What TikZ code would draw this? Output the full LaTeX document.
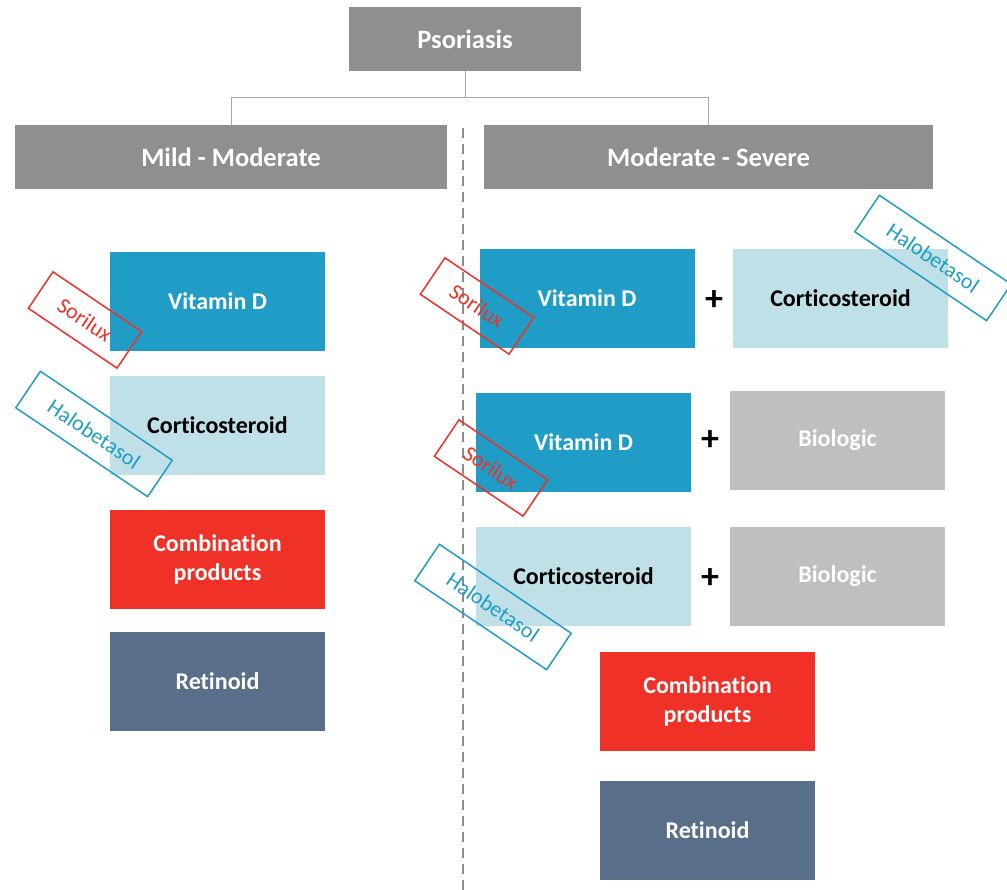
\documentclass[tikz,border=0pt]{standalone}
\usepackage{fontspec}
\setmainfont{Carlito}[Ligatures=NoCommon]
\definecolor{hdr}{HTML}{8F8F8F}
\definecolor{vitd}{HTML}{1F9DC7}
\definecolor{cort}{HTML}{BFE0E6}
\definecolor{comb}{HTML}{F03127}
\definecolor{reti}{HTML}{596E89}
\definecolor{biol}{HTML}{BFBFBF}
\definecolor{connc}{HTML}{A6A6A6}
\definecolor{dashc}{HTML}{8C8C8C}
\definecolor{sorc}{HTML}{EE3127}
\definecolor{haloc}{HTML}{1F9DC7}
\begin{document}
\begin{tikzpicture}[x=1pt,y=-1pt,
  hdrbox/.style={rectangle,fill=hdr,text=white,inner sep=0pt,font=\bfseries\fontsize{26.5}{30}\selectfont},
  tbox/.style={rectangle,minimum width=215pt,minimum height=99pt,inner sep=0pt,align=center,font=\bfseries\fontsize{24}{28.5}\selectfont},
  vitbox/.style={tbox,fill=vitd,text=white},
  cortbox/.style={tbox,fill=cort,text=black},
  combbox/.style={tbox,fill=comb,text=white},
  retibox/.style={tbox,fill=reti,text=white},
  biolbox/.style={tbox,fill=biol,text=white},
  plussign/.style={font=\bfseries\fontsize{36}{40}\selectfont,inner sep=0pt},
  stampbox/.style={rectangle,draw,line width=1.5pt,minimum height=44pt,inner sep=0pt,font=\fontsize{22}{26}\selectfont,rotate=-34},
  soristamp/.style={stampbox,draw=sorc,text=sorc,minimum width=107pt},
  halostamp/.style={stampbox,draw=haloc,text=haloc,minimum width=159pt},
  conn/.style={draw=connc,line width=1pt},
  divider/.style={draw=dashc,line width=2pt,dash pattern=on 10pt off 6pt}
]
\useasboundingbox (0,0) rectangle (1007,890);

% headers
\node[hdrbox,minimum width=232pt,minimum height=64pt] (pso) at (465,39) {Psoriasis};
\node[hdrbox,minimum width=432pt,minimum height=64pt] (mild) at (231,157) {Mild - Moderate};
\node[hdrbox,minimum width=449pt,minimum height=64pt] (sev) at (708.5,157) {Moderate - Severe};

\coordinate (j) at (465,98);
\draw[conn] (pso.south) -- (j) -| (mild.north);
\draw[conn] (j) -| (sev.north);

% divider
\coordinate (dtop) at (463,128);
\coordinate (dbot) at (463,890);
\draw[divider] (dtop) -- (dbot);

% left column
\node[vitbox] (lvit) at (217.5,301.5) {Vitamin D};
\node[cortbox] (lcort) at (217.5,425.5) {Corticosteroid};
\node[combbox] (lcomb) at (217.5,559.5) {Combination\\products};
\node[retibox] (lret) at (217.5,681.5) {Retinoid};

% right column
\node[vitbox] (rvit1) at (587,298.5) {Vitamin D};
\node[cortbox] (rcort1) at (840.5,298.5) {Corticosteroid};
\node[vitbox] (rvit2) at (583.5,442.5) {Vitamin D};
\node[biolbox] (rbio1) at (837.5,440.5) {Biologic};
\node[cortbox] (rcort2) at (583.5,576.5) {Corticosteroid};
\node[biolbox] (rbio2) at (837.5,576) {Biologic};
\node[combbox] (rcomb) at (707.5,701.5) {Combination\\products};
\node[retibox] (rret) at (707.5,830.5) {Retinoid};

\node[plussign] (p1) at (714,301) {+};
\node[plussign] (p2) at (710,441) {+};
\node[plussign] (p3) at (710,579) {+};

% stamps
\node[soristamp] (s1) at (85,320) {Sorilux};
\node[halostamp] (h1) at (94,434) {Halobetasol};
\node[soristamp] (s2) at (477,306) {Sorilux};
\node[halostamp] (h2) at (933,258) {Halobetasol};
\node[soristamp] (s3) at (491,468) {Sorilux};
\node[halostamp] (h3) at (493,607) {Halobetasol};
\end{tikzpicture}
\end{document}
